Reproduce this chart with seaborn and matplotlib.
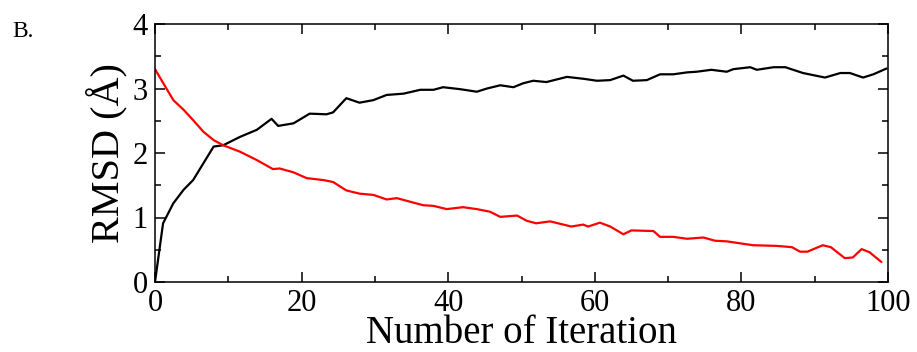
import numpy as np
import pandas as pd
import matplotlib
matplotlib.use("Agg")
import matplotlib.pyplot as plt
import seaborn as sns
from matplotlib.ticker import MultipleLocator

# black curve (rising)
black_x = [0, 1.1, 2.5, 3.9, 5.2, 6.6, 8.0, 9.3, 11.6, 13.9, 15.9, 16.8, 18.9, 21.1,
           23.4, 24.3, 26.1, 27.9, 29.8, 31.6, 33.9, 36.2, 38.0, 39.3, 41.6, 43.9,
           45.3, 47.1, 48.9, 50.2, 51.6, 53.4, 56.2, 58.5, 60.3, 62.1, 63.9, 65.2,
           67.1, 68.9, 70.7, 72.6, 73.9, 75.9, 78.0, 78.9, 81.2, 82.1, 84.4, 86.0,
           88.4, 91.4, 93.5, 94.8, 96.6, 98.0, 99.8]
black_y = [0.0, 0.91, 1.22, 1.43, 1.58, 1.84, 2.10, 2.12, 2.25, 2.36, 2.53, 2.42, 2.46, 2.61,
           2.60, 2.63, 2.85, 2.78, 2.82, 2.90, 2.92, 2.98, 2.98, 3.02, 2.99, 2.95,
           3.00, 3.05, 3.02, 3.08, 3.12, 3.10, 3.18, 3.15, 3.12, 3.13, 3.20, 3.12,
           3.13, 3.22, 3.22, 3.25, 3.26, 3.29, 3.26, 3.30, 3.33, 3.29, 3.33, 3.33,
           3.24, 3.17, 3.24, 3.24, 3.17, 3.22, 3.31]

# red curve (falling)
red_x = [0, 1.4, 2.5, 3.9, 5.2, 6.6, 8.0, 9.3, 11.6, 13.9, 16.1, 17.0, 18.9, 20.7,
         23.0, 24.3, 26.1, 27.9, 29.8, 31.6, 33.0, 34.3, 36.6, 38.0, 39.8, 42.0,
         43.9, 45.7, 47.1, 49.4, 50.7, 52.0, 53.9, 56.8, 58.4, 59.1, 60.7, 62.1,
         63.9, 65.0, 68.0, 68.9, 70.7, 72.6, 74.8, 76.4, 78.0, 81.6, 84.8, 86.9,
         88.0, 89.0, 91.1, 92.2, 94.1, 95.2, 96.4, 97.5, 99.1]
red_y = [3.30, 3.03, 2.82, 2.67, 2.51, 2.33, 2.20, 2.12, 2.02, 1.89, 1.75, 1.76, 1.70, 1.61,
         1.58, 1.55, 1.42, 1.37, 1.35, 1.28, 1.30, 1.26, 1.19, 1.18, 1.13, 1.16,
         1.13, 1.09, 1.01, 1.03, 0.95, 0.91, 0.94, 0.86, 0.89, 0.86, 0.92, 0.86,
         0.74, 0.80, 0.79, 0.70, 0.70, 0.67, 0.69, 0.64, 0.63, 0.57, 0.56, 0.54,
         0.47, 0.47, 0.57, 0.54, 0.37, 0.38, 0.51, 0.46, 0.31]

sns.set_style("ticks")
plt.rcParams['font.family'] = ['Liberation Serif', 'DejaVu Serif']
plt.rcParams['text.color'] = 'black'
plt.rcParams['axes.labelcolor'] = 'black'

fig = plt.figure(figsize=(9.17, 3.52), dpi=100)
ax = fig.add_axes([155/917, 1 - 282/352, (888 - 155)/917, (282 - 24)/352])

sns.lineplot(x=black_x, y=black_y, color="black", lw=1.6, ax=ax, sort=False)
sns.lineplot(x=red_x, y=red_y, color="red", lw=1.6, ax=ax, sort=False)

ax.set_xlim(0, 100)
ax.set_ylim(0, 4)
ax.xaxis.set_major_locator(MultipleLocator(20))
ax.xaxis.set_minor_locator(MultipleLocator(10))
ax.yaxis.set_major_locator(MultipleLocator(1))
ax.yaxis.set_minor_locator(MultipleLocator(0.5))
ax.tick_params(which="both", direction="in", top=True, right=True, width=1.1,
               labelsize=22, colors="black")
ax.tick_params(which="major", length=7, pad=5)
ax.tick_params(which="minor", length=4)
for s in ax.spines.values():
    s.set_linewidth(1.1)
    s.set_color("black")

ax.set_xlabel("Number of Iteration", fontsize=28, labelpad=-2)
ax.set_ylabel("RMSD (Å)", fontsize=29, labelpad=4)
fig.text(12/917, 1 - 37/352, "B.", fontsize=17)

fig.savefig("out.png", dpi=100)
